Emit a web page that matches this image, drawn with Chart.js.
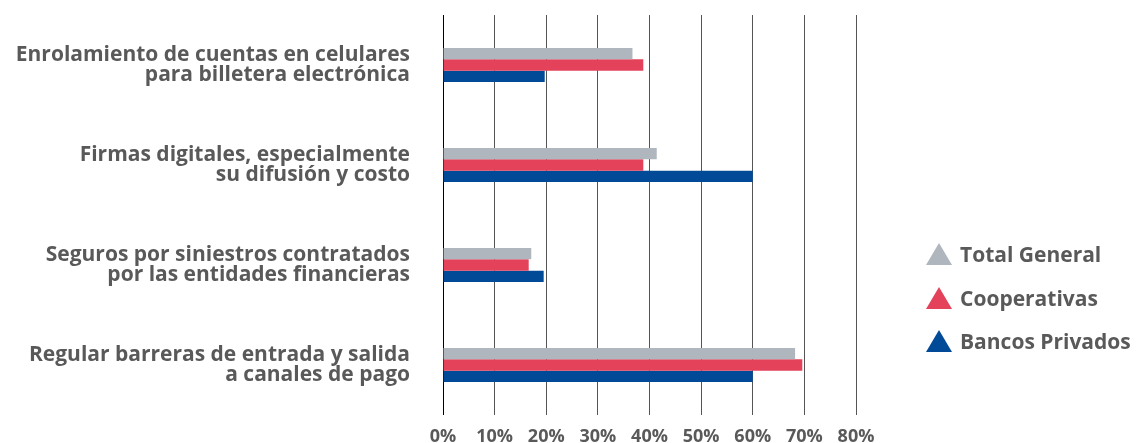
<!DOCTYPE html>
<html lang="es">
<head>
<meta charset="utf-8">
<script src="https://cdn.jsdelivr.net/npm/chart.js@4"></script>
<style>
    body { margin: 0; background: #fff; }
    #wrap { position: relative; width: 1136px; height: 443px; }
    .legend { position: absolute; left: 925px; top: 0; font-family: 'Open Sans', sans-serif; font-weight: bold; font-size: 21px; color: #595959; }
    .legend-item { position: absolute; left: 0; display: flex; align-items: center; white-space: nowrap; height: 26px; }
    .legend-item svg { margin-right: 7px; }
</style>
</head>
<body>
<div id="wrap">
    <canvas id="barChart" width="1136" height="443"></canvas>
    <div class="legend" id="legend"></div>
</div>
<script>
// categorias (de arriba hacia abajo) y valores en %
const categories = [
    ['Enrolamiento de cuentas en celulares', 'para billetera electrónica'],
    ['Firmas digitales, especialmente', 'su difusión y costo'],
    ['Seguros por siniestros contratados', 'por las entidades financieras'],
    ['Regular barreras de entrada y salida', 'a canales de pago']
];
const seriesNames = ['Total General', 'Cooperativas', 'Bancos Privados'];
const totalGeneral = [36.7, 41.4, 17.1, 68.2];
const cooperativas = [38.8, 38.8, 16.6, 69.6];
const bancosPrivados = [19.7, 60, 19.5, 60];
const xTicks = [0, 10, 20, 30, 40, 50, 60, 70, 80];

const colors = ['#b0b6be', '#e3425a', '#004a98'];
const textColor = '#595959';

const ctx = document.getElementById('barChart').getContext('2d');
const barChart = new Chart(ctx, {
    type: 'bar',
    data: {
        labels: categories,
        datasets: [totalGeneral, cooperativas, bancosPrivados].map((data, i) => ({
            label: seriesNames[i],
            data: data,
            backgroundColor: colors[i],
            borderWidth: 0,
            barPercentage: 1,
            categoryPercentage: 0.34
        }))
    },
    options: {
        indexAxis: 'y',
        responsive: false,
        animation: false,
        layout: { padding: { top: 15, right: 280, left: 0, bottom: 0 } },
        plugins: {
            legend: { display: false },
            tooltip: { enabled: false }
        },
        scales: {
            x: {
                min: 0,
                max: 80,
                afterBuildTicks: scale => {
                    scale.ticks = xTicks.map(v => ({ value: v }));
                },
                afterFit: scale => { scale.height = 28; },
                border: { display: false },
                grid: {
                    drawTicks: false,
                    lineWidth: 1,
                    color: c => (c.tick && c.tick.value === 0) ? '#000' : '#555'
                },
                ticks: {
                    padding: 11,
                    color: textColor,
                    font: { family: 'Open Sans', weight: 'bold', size: 18 },
                    callback: v => v + '%'
                }
            },
            y: {
                afterFit: scale => {
                    // ancho fijo para las etiquetas y sin relleno extra arriba/abajo
                    scale.width = 443;
                    scale.paddingTop = 0;
                    scale.paddingBottom = 0;
                },
                border: { display: false },
                grid: { display: false, drawTicks: false },
                ticks: {
                    padding: 33,
                    color: textColor,
                    font: { family: 'Open Sans', weight: 'bold', size: 21, lineHeight: 0.95 }
                }
            }
        }
    }
});

// leyenda con triangulos a la derecha
const legendTops = [241, 285, 328];
const legendEl = document.getElementById('legend');
seriesNames.forEach((name, i) => {
    const item = document.createElement('div');
    item.className = 'legend-item';
    item.style.top = legendTops[i] + 'px';
    item.innerHTML = `<svg width="28" height="24" viewBox="0 0 28 24"><polygon points="14,1 27,23 1,23" fill="${colors[i]}"/></svg>${name}`;
    legendEl.appendChild(item);
});
</script>
</body>
</html>
